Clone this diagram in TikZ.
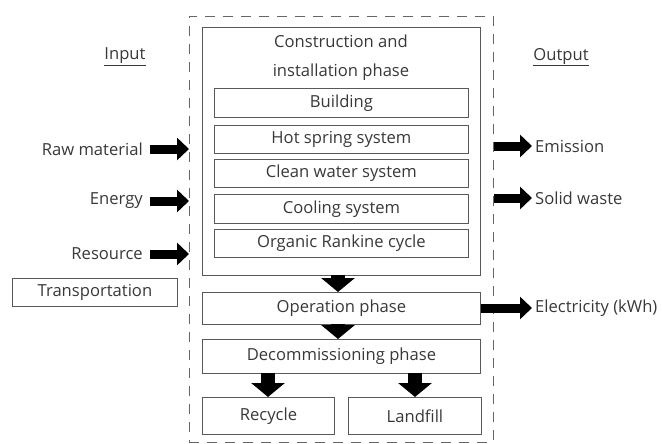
\documentclass[tikz,border=0pt]{standalone}
\usepackage{fontspec}
\setmainfont{Open Sans}
\usetikzlibrary{arrows.meta}
\begin{document}
\begin{tikzpicture}[x=1pt,y=-1pt,
  box/.style={draw=black!65,line width=0.9pt,minimum height=#1,inner sep=0pt,anchor=north west},
  txt/.style={font=\fontsize{16.6}{19}\selectfont,text=black!78,inner sep=0pt},
  fathor/.style={line width=9pt,-{Triangle[length=12pt,width=22pt]},black},
  fatver/.style={line width=14pt,-{Triangle[length=14pt,width=33pt]},black,shorten <=-1pt},
]
\useasboundingbox (0,0) rectangle (662,444);
% dashed system boundary
\node[draw=black!60,dash pattern=on 10pt off 8pt,line width=0.9pt,minimum width=304pt,minimum height=426pt,inner sep=0pt,anchor=north west] (sys) at (189,16) {};
% construction
\node[box=248pt,minimum width=278pt] (cons) at (202,27) {};
\node[txt,align=center] (constxt) at (341,41) {Construction and};
\node[txt,align=center] (constxt2) at (341,72) {installation phase};
\node[box=29pt,minimum width=254pt] (b1) at (214,88) {};
\node[txt] at (b1.center) {Building};
\node[box=28pt,minimum width=254pt] (b2) at (214,125) {};
\node[txt] at (b2.center) {Hot spring system};
\node[box=28pt,minimum width=254pt] (b3) at (214,159) {};
\node[txt] at (b3.center) {Clean water system};
\node[box=29pt,minimum width=254pt] (b4) at (214,194) {};
\node[txt] at (b4.center) {Cooling system};
\node[box=28pt,minimum width=254pt] (b5) at (214,229) {};
\node[txt] at (b5.center) {Organic Rankine cycle};
% operation
\node[box=32pt,minimum width=278pt] (op) at (202,292) {};
\node[txt] at (op.center) {Operation phase};
\node[box=34pt,minimum width=278pt] (dec) at (202,339) {};
\node[txt] at (dec.center) {Decommissioning phase};
\node[box=37pt,minimum width=132pt] (rec) at (202,397) {};
\node[txt] at (rec.center) {Recycle};
\node[box=37pt,minimum width=133pt] (land) at (348,397) {};
\node[txt] at (land.center) {Landfill};
% transportation
\node[box=28pt,minimum width=165pt] (trans) at (12,278) {};
\node[txt] at (trans.center) {Transportation};
% headings
\node[txt] (in) at (125,57) {\underline{Input}};
\node[txt] (out) at (561,57) {\underline{Output}};
% inputs
\node[txt,anchor=east] (raw) at (143,149) {Raw material};
\node[txt,anchor=east] (en) at (143,201) {Energy};
\node[txt,anchor=east] (res) at (143,254) {Resource};
\draw[fathor] ([xshift=7pt]raw.east) -- (raw.east -| sys.west);
\draw[fathor] ([xshift=7pt]en.east) -- (en.east -| sys.west);
\draw[fathor] ([xshift=7pt]res.east) -- (res.east -| sys.west);
% outputs
\node[txt,anchor=west] (emi) at (535,146) {Emission};
\node[txt,anchor=west] (sol) at (535,198) {Solid waste};
\node[txt,anchor=west] (ele) at (535,308) {Electricity (kWh)};
\draw[fathor] (emi.west -| sys.east) -- ([xshift=-3pt]emi.west);
\draw[fathor] (sol.west -| sys.east) -- ([xshift=-3pt]sol.west);
\draw[fathor] (ele.west -| op.east) -- ([xshift=-3pt]ele.west);
% phase arrows
\draw[fatver] (cons.south -| 338,0) -- (op.north -| 338,0);
\draw[fatver] (op.south -| 338,0) -- (dec.north -| 338,0);
\draw[fatver] (dec.south -| 268,0) -- (rec.north -| 268,0);
\draw[fatver] (dec.south -| 415,0) -- (land.north -| 415,0);
\end{tikzpicture}
\end{document}
